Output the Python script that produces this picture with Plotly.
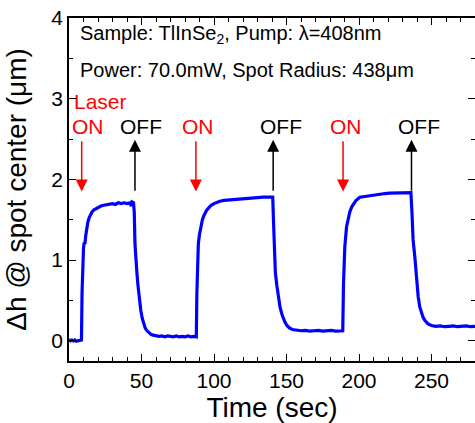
import plotly.graph_objects as go

# time (s) and spot-centre displacement (um)
time_s = [
    0, 1, 2, 3, 4, 5, 6, 7, 8, 8.6,
    9.0, 9.4, 10.0, 10.5, 11, 11.5, 12, 13, 14, 15, 16, 17, 18, 19, 20,
    22, 24, 26, 28, 30, 32, 34, 36, 38, 40, 42, 43, 43.5, 44.5,
    45, 45.5, 46, 46.8, 47.5, 48.5, 49.5, 50.5, 51.5, 52.5, 53.5, 55, 56.5,
    58, 60, 62, 64, 66, 68, 70, 72, 74, 76, 78, 80, 82, 84, 86, 87.8,
    88.2, 88.6, 89.2, 90, 91, 92, 93, 94, 95, 96.5, 98, 100, 102, 104,
    107, 110, 113, 116, 119, 122, 125, 128, 131, 134, 137, 140.5,
    141, 141.5, 142.3, 143.3, 144.5, 145.6, 147, 148, 149, 150.3, 152,
    154, 156, 158, 160, 163, 166, 169, 172, 175, 178, 181, 184, 187, 188.8,
    189.3, 189.8, 190.2, 191.4, 192.5, 193.7, 195, 196, 198, 200.6, 204,
    207.4, 211, 215, 218, 221, 224, 226, 229, 231, 233, 235.8,
    236.5, 237.3, 238.5, 239.6, 240.8, 241.9, 243, 244.2, 245.5, 247.6,
    250, 253, 256, 259, 262, 265, 268, 271, 274, 277, 280, 282,
]
dh_um = [
    0.02, 0.0, 0.01, 0.0, 0.01, -0.005, 0.0, 0.005, 0.0, 0.01,
    0.6, 1.0, 1.15, 1.22, 1.2, 1.3, 1.38, 1.47, 1.53, 1.57, 1.6, 1.62, 1.63, 1.64, 1.66,
    1.67, 1.68, 1.69, 1.69, 1.70, 1.69, 1.71, 1.70, 1.71, 1.70, 1.71, 1.67, 1.72, 1.71,
    1.6, 1.2, 1.0, 0.85, 0.7, 0.52, 0.38, 0.28, 0.21, 0.16, 0.13, 0.10, 0.08,
    0.07, 0.06, 0.055, 0.06, 0.05, 0.06, 0.055, 0.05, 0.06, 0.05, 0.055, 0.05, 0.06, 0.05, 0.055, 0.05,
    0.6, 1.0, 1.2, 1.32, 1.43, 1.5, 1.55, 1.59, 1.62, 1.65, 1.68, 1.70, 1.72, 1.73,
    1.74, 1.745, 1.75, 1.755, 1.76, 1.765, 1.77, 1.77, 1.775, 1.78, 1.78, 1.78,
    1.5, 1.1, 0.85, 0.69, 0.53, 0.41, 0.32, 0.27, 0.23, 0.19, 0.16,
    0.14, 0.135, 0.13, 0.125, 0.13, 0.12, 0.125, 0.13, 0.12, 0.125, 0.13, 0.12, 0.125, 0.125,
    0.7, 1.0, 1.16, 1.41, 1.53, 1.6, 1.66, 1.69, 1.74, 1.78, 1.79,
    1.8, 1.81, 1.82, 1.825, 1.83, 1.83, 1.83, 1.835, 1.83, 1.835, 1.835,
    1.6, 1.25, 1.04, 0.75, 0.55, 0.42, 0.34, 0.29, 0.25, 0.21,
    0.19, 0.18, 0.185, 0.175, 0.18, 0.185, 0.175, 0.18, 0.185, 0.175, 0.18, 0.18,
]

on_times = [8.75, 87.5, 189.0]
off_times = [45.5, 140.8, 236.2]
on_labels_x = [13.1, 88.9, 190.8]
off_labels_x = [49.5, 146.0, 241.2]

font = "Liberation Sans, Arial, sans-serif"

fig = go.Figure()
fig.add_trace(go.Scatter(x=time_s, y=dh_um, mode="lines",
                         line=dict(color="#0000ff", width=3.2), showlegend=False))

# arrows: red pointing down at laser ON, black pointing up at laser OFF
for t in on_times:
    fig.add_annotation(x=t, y=1.85, ax=t, ay=2.49, axref="x", ayref="y",
                       showarrow=True, arrowhead=2, arrowsize=1.6, arrowwidth=1.5,
                       arrowcolor="#ff0000", text="")
for t in off_times:
    fig.add_annotation(x=t, y=2.49, ax=t, ay=1.84, axref="x", ayref="y",
                       showarrow=True, arrowhead=2, arrowsize=1.6, arrowwidth=1.5,
                       arrowcolor="#000000", text="")

for t in on_labels_x:
    fig.add_annotation(x=t, y=2.65, text="ON", showarrow=False,
                       font=dict(family=font, size=21, color="#ff0000"))
for t in off_labels_x:
    fig.add_annotation(x=t, y=2.65, text="OFF", showarrow=False,
                       font=dict(family=font, size=21, color="#000000"))
fig.add_annotation(x=21.4, y=2.96, text="Laser", showarrow=False,
                   font=dict(family=font, size=21, color="#ff0000"))

fig.add_annotation(x=6.0, y=3.79, xanchor="left", showarrow=False,
                   text="Sample: TlInSe<sub>2</sub>, Pump: λ=408nm",
                   font=dict(family=font, size=20, color="#000000"))
fig.add_annotation(x=6.0, y=3.36, xanchor="left", showarrow=False,
                   text="Power: 70.0mW, Spot Radius: 438μm",
                   font=dict(family=font, size=20, color="#000000"))

axis_common = dict(showline=True, linecolor="black", linewidth=1.5, mirror="ticks",
                   ticks="inside", ticklen=7, tickwidth=1.2, tickcolor="black",
                   showgrid=False, zeroline=False, automargin=False,
                   tickfont=dict(family=font, size=21, color="black"))

fig.update_xaxes(range=[0, 280], tickvals=[0, 50, 100, 150, 200, 250],
                 minor=dict(ticks="inside", ticklen=4, dtick=10, tickcolor="black"),
                 title=dict(text="Time (sec)", font=dict(family=font, size=28, color="black"),
                            standoff=8),
                 **axis_common)
fig.update_yaxes(range=[-0.25, 4], tickvals=[0, 1, 2, 3, 4],
                 minor=dict(ticks="inside", ticklen=4, dtick=0.5, tickcolor="black"),
                 title=dict(text="Δh @ spot center (μm)",
                            font=dict(family=font, size=28, color="black"), standoff=17),
                 **axis_common)

fig.update_layout(width=475, height=423, plot_bgcolor="white", paper_bgcolor="white",
                  margin=dict(l=69, r=0, t=18, b=62), font=dict(family=font))

# drop the page's default body margin so the figure sits at the window origin
fig.write_html("out.html", config={"displayModeBar": False},
               post_script="document.body.style.margin='0';")
